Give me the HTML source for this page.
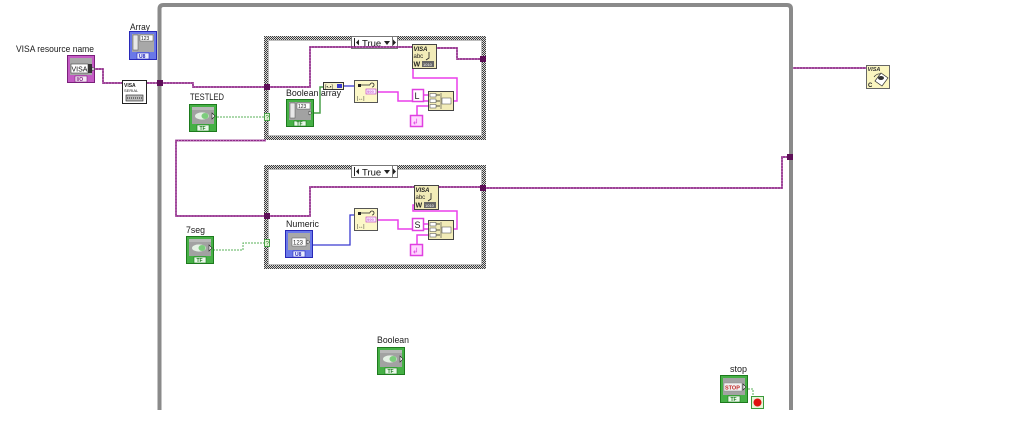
<!DOCTYPE html>
<html><head><meta charset="utf-8"><style>
html,body{margin:0;padding:0;background:#fff;}
svg{display:block;}
text{font-family:"Liberation Sans",sans-serif;}
.lbl{font-size:9.5px;fill:#1a1a1a;}
.vw{fill:none;stroke:#8e2a86;stroke-width:1.7;}
.vd{fill:none;stroke:#d078d0;stroke-width:0.8;stroke-dasharray:1 2;}
.sw{fill:none;stroke:#ea3fea;stroke-width:1.5;}
.gw{fill:none;stroke:#58b058;stroke-width:1;stroke-dasharray:2 1;}
.gs{fill:none;stroke:#4aa04a;stroke-width:1.5;}
.bw{fill:none;stroke:#3a3ad0;stroke-width:1.3;}
.tiny{font-size:5px;font-weight:bold;}
</style></head><body>
<svg width="1024" height="439" viewBox="0 0 1024 439" xmlns="http://www.w3.org/2000/svg">
<defs>
<pattern id="chk" width="2" height="2" patternUnits="userSpaceOnUse">
<rect width="2" height="2" fill="#d8d8d8"/><rect width="1" height="1" fill="#3c3c3c"/><rect x="1" y="1" width="1" height="1" fill="#3c3c3c"/>
</pattern>
<g id="boolT">
<rect x="0" y="0" width="28" height="28" fill="#1d7a1d"/>
<rect x="1" y="1" width="26" height="26" fill="#46b046"/>
<rect x="3" y="3" width="22" height="17" fill="#a2a2a2"/>
<rect x="3" y="3" width="22" height="3" fill="#b8b8b8"/>
<ellipse cx="13" cy="12" rx="7" ry="3.6" fill="#e4f0e4"/>
<ellipse cx="16" cy="12" rx="3.5" ry="3" fill="#7ccc7c"/>
<polygon points="23,9 26,12 23,15" fill="#fff" stroke="#222" stroke-width="0.6"/>
<rect x="8" y="21" width="12" height="6" fill="#eaf8ea" stroke="#1d7a1d" stroke-width="0.6"/>
<text x="10.5" y="26" class="tiny" fill="#1d7a1d">TF</text>
</g>
</defs>

<!-- While loop -->
<path d="M159.5,410 V9 Q159.5,5 163.5,5 H787 Q791,5 791,9 V410" fill="none" stroke="#8a8a8a" stroke-width="4"/>

<!-- Case structure 1 -->
<rect x="264" y="36" width="222" height="104" fill="url(#chk)"/>
<rect x="268" y="40" width="214" height="96" fill="#fff"/>
<rect x="268.5" y="40.5" width="213" height="95" fill="none" stroke="#bdbdbd" stroke-width="1"/>
<!-- Case structure 2 -->
<rect x="264" y="165" width="222" height="104" fill="url(#chk)"/>
<rect x="268" y="169" width="214" height="96" fill="#fff"/>
<rect x="268.5" y="169.5" width="213" height="95" fill="none" stroke="#bdbdbd" stroke-width="1"/>

<!-- Selectors -->
<g>
<rect x="351.5" y="36.5" width="46" height="12" fill="#fff" stroke="#777"/>
<polygon points="356,42.5 359,39.5 359,45.5" fill="#222"/><line x1="354.5" y1="38" x2="354.5" y2="47" stroke="#222"/>
<text x="362" y="46.5" font-size="9.5" fill="#111">True</text>
<polygon points="384,41 390,41 387,45" fill="#222"/>
<line x1="392.5" y1="37" x2="392.5" y2="48" stroke="#777"/>
<polygon points="393,39.5 396,42.5 393,45.5" fill="#222"/>
</g>
<g transform="translate(0,129)">
<rect x="351.5" y="36.5" width="46" height="12" fill="#fff" stroke="#777"/>
<polygon points="356,42.5 359,39.5 359,45.5" fill="#222"/><line x1="354.5" y1="38" x2="354.5" y2="47" stroke="#222"/>
<text x="362" y="46.5" font-size="9.5" fill="#111">True</text>
<polygon points="384,41 390,41 387,45" fill="#222"/>
<line x1="392.5" y1="37" x2="392.5" y2="48" stroke="#777"/>
<polygon points="393,39.5 396,42.5 393,45.5" fill="#222"/>
</g>

<!-- VISA wires -->
<g>
<path class="vw" d="M95,69 H103 V83 H122"/>
<path class="vw" d="M146,83 H160"/>
<path class="vw" d="M163,83 H193 V87 H265"/>
<path class="vw" d="M270,87 H310 V47 H412"/>
<path class="vw" d="M437,48 H457 V59 H480"/>
<path class="vw" d="M266,140.5 H176 V216 H265"/>
<path class="vw" d="M270,216 H310 V187 H414"/>
<path class="vw" d="M438,187 H480"/>
<path class="vw" d="M486,188 H782 V157 H788"/>
<path class="vw" d="M793,68 H866"/>
</g>
<g>
<path class="vd" d="M95,69 H103 V83 H122"/>
<path class="vd" d="M146,83 H160"/>
<path class="vd" d="M163,83 H193 V87 H265"/>
<path class="vd" d="M270,87 H310 V47 H412"/>
<path class="vd" d="M437,48 H457 V59 H480"/>
<path class="vd" d="M266,140.5 H176 V216 H265"/>
<path class="vd" d="M270,216 H310 V187 H414"/>
<path class="vd" d="M438,187 H480"/>
<path class="vd" d="M486,188 H782 V157 H788"/>
<path class="vd" d="M793,68 H866"/>
</g>

<!-- String wires case 1 -->
<path class="sw" d="M378,92 H398 V101 H428"/>
<path class="sw" d="M424,95 H428"/>
<path class="sw" d="M417,115 V106 H428"/>
<path class="sw" d="M453,101 H457 V78 H413 V68"/>
<!-- String wires case 2 -->
<path class="sw" d="M378,220 H398 V229 H428"/>
<path class="sw" d="M424,224 H428"/>
<path class="sw" d="M417,244 V235 H428"/>
<path class="sw" d="M453,229 H457 V211 H413 V205 H415"/>

<!-- numeric/bool wires -->
<path class="gs" d="M314,113 H320 V87 H323"/>
<path class="bw" d="M343,86 H354"/>
<path class="bw" d="M313,245 H350 V215 H354"/>
<path class="gw" d="M217,117 H265"/>
<path class="gw" d="M213,250 H243 V243 H265"/>
<path class="gw" d="M748,389 H753 V396"/>

<!-- Tunnels -->
<rect x="157" y="80" width="6" height="6" fill="#5e0f58"/>
<rect x="787" y="154" width="6" height="6" fill="#5e0f58"/>
<rect x="264" y="84" width="6" height="6" fill="#5e0f58"/>
<rect x="480" y="56" width="6" height="6" fill="#5e0f58"/>
<rect x="264" y="213" width="6" height="6" fill="#5e0f58"/>
<rect x="480" y="185" width="6" height="6" fill="#5e0f58"/>
<rect x="264.5" y="113.5" width="5" height="7" fill="#e6f6d8" stroke="#4aa04a"/>
<text x="265.5" y="119.5" font-size="6" fill="#2a802a">?</text>
<rect x="264.5" y="239.5" width="5" height="7" fill="#e6f6d8" stroke="#4aa04a"/>
<text x="265.5" y="245.5" font-size="6" fill="#2a802a">?</text>

<!-- Labels -->
<text class="lbl" x="16" y="52" textLength="78" lengthAdjust="spacingAndGlyphs">VISA resource name</text>
<text class="lbl" x="130" y="30" textLength="20" lengthAdjust="spacingAndGlyphs">Array</text>
<text class="lbl" x="190" y="100" textLength="34" lengthAdjust="spacingAndGlyphs">TESTLED</text>
<text class="lbl" x="186" y="233" textLength="19" lengthAdjust="spacingAndGlyphs">7seg</text>
<text class="lbl" x="377" y="343" textLength="32" lengthAdjust="spacingAndGlyphs">Boolean</text>
<text class="lbl" x="730" y="372" textLength="17" lengthAdjust="spacingAndGlyphs">stop</text>
<text class="lbl" x="286" y="96" textLength="55" lengthAdjust="spacingAndGlyphs">Boolean array</text>
<text class="lbl" x="286" y="227" textLength="33" lengthAdjust="spacingAndGlyphs">Numeric</text>

<!-- VISA resource control -->
<g transform="translate(67,55)">
<rect x="0" y="0" width="28" height="28" fill="#7a1f7a"/>
<rect x="1" y="1" width="26" height="26" fill="#c45cc4"/>
<rect x="3" y="3" width="22" height="17" fill="#a8a8a8"/>
<rect x="4" y="9" width="17" height="9" fill="#fff" stroke="#444" stroke-width="0.6"/>
<text x="4.5" y="16.5" font-size="7" fill="#111">VISA</text>
<rect x="21" y="9" width="4" height="9" fill="#333"/>
<polygon points="25,12 28,14 25,16" fill="#fff" stroke="#222" stroke-width="0.5"/>
<rect x="8" y="21" width="12" height="6" fill="#f6e6f6" stroke="#7a1f7a" stroke-width="0.6"/>
<text x="9.5" y="26" class="tiny" fill="#7a1f7a">I/O</text>
</g>

<!-- Array control -->
<g transform="translate(129,31)">
<rect x="0" y="0" width="28" height="29" fill="#2828b8"/>
<rect x="1" y="1" width="26" height="27" fill="#6a78e8"/>
<rect x="3" y="3" width="22" height="18" fill="#a8a8a8"/>
<rect x="4" y="4" width="5" height="15" fill="#e8e8e8" stroke="#555" stroke-width="0.5"/>
<rect x="11" y="4" width="13" height="6" fill="#fff" stroke="#555" stroke-width="0.5"/>
<text x="12" y="9" font-size="5" fill="#222">123</text>
<rect x="8" y="22" width="12" height="6" fill="#e8ecff" stroke="#2828b8" stroke-width="0.6"/>
<text x="10" y="27" class="tiny" fill="#2828b8">U8</text>
</g>

<!-- VISA serial node -->
<g transform="translate(122,80)">
<rect x="0.5" y="0.5" width="24" height="23" fill="#fff" stroke="#222"/>
<text x="2" y="7" font-size="5" font-weight="bold" fill="#222">VISA</text>
<text x="2" y="12" font-size="4" fill="#222">SERIAL</text>
<rect x="4" y="15" width="17" height="6" fill="#bbb" stroke="#222" stroke-width="0.6"/>
<line x1="5" y1="18" x2="20" y2="18" stroke="#222" stroke-dasharray="1 1"/>
</g>

<!-- Bool terminals -->
<use href="#boolT" x="189" y="104"/>
<use href="#boolT" x="186" y="236"/>
<use href="#boolT" x="377" y="347"/>

<!-- stop -->
<g transform="translate(720,375)">
<rect x="0" y="0" width="28" height="28" fill="#1d7a1d"/>
<rect x="1" y="1" width="26" height="26" fill="#46b046"/>
<rect x="3" y="3" width="22" height="17" fill="#a2a2a2"/>
<rect x="4" y="8" width="18" height="8" fill="#f2f2f2" stroke="#888" stroke-width="0.5"/>
<text x="5" y="14.5" font-size="5.5" font-weight="bold" fill="#c02020">STOP</text>
<polygon points="23,9 26,12 23,15" fill="#fff" stroke="#222" stroke-width="0.6"/>
<rect x="8" y="21" width="12" height="6" fill="#eaf8ea" stroke="#1d7a1d" stroke-width="0.6"/>
<text x="10.5" y="26" class="tiny" fill="#1d7a1d">TF</text>
</g>
<rect x="751.5" y="396.5" width="12" height="12" fill="#e8f4d8" stroke="#3a9a3a"/>
<circle cx="757.5" cy="402.5" r="4" fill="#e01010"/>

<!-- Boolean array control in case 1 -->
<g transform="translate(286,99)">
<rect x="0" y="0" width="28" height="28" fill="#1d7a1d"/>
<rect x="1" y="1" width="26" height="26" fill="#46b046"/>
<rect x="3" y="3" width="22" height="18" fill="#a2a2a2"/>
<rect x="4" y="4" width="5" height="15" fill="#e8e8e8" stroke="#555" stroke-width="0.5"/>
<rect x="11" y="4" width="13" height="6" fill="#fff" stroke="#555" stroke-width="0.5"/>
<text x="12" y="9" font-size="5" fill="#222">123</text>
<polygon points="23,12 26,14 23,16" fill="#fff" stroke="#222" stroke-width="0.5"/>
<rect x="8" y="22" width="12" height="5" fill="#eaf8ea" stroke="#1d7a1d" stroke-width="0.6"/>
<text x="10.5" y="26.5" class="tiny" fill="#1d7a1d">TF</text>
</g>

<!-- Numeric control in case 2 -->
<g transform="translate(285,230)">
<rect x="0" y="0" width="28" height="28" fill="#2828b8"/>
<rect x="1" y="1" width="26" height="26" fill="#6a78e8"/>
<rect x="3" y="3" width="22" height="17" fill="#a8a8a8"/>
<rect x="7" y="8" width="14" height="8" fill="#fff" stroke="#555" stroke-width="0.5"/>
<text x="8" y="14.5" font-size="6" fill="#222">123</text>
<polygon points="22,10 25,12 22,14" fill="#fff" stroke="#222" stroke-width="0.5"/>
<rect x="8" y="21" width="12" height="6" fill="#e8ecff" stroke="#2828b8" stroke-width="0.6"/>
<text x="10" y="26" class="tiny" fill="#2828b8">U8</text>
</g>

<!-- Boolean array to number -->
<g transform="translate(323,82)">
<rect x="0.5" y="0.5" width="20" height="7" fill="#f4f0c8" stroke="#333"/>
<text x="2" y="6.5" font-size="5" fill="#222">[•-•]</text>
<rect x="14" y="2" width="5" height="4" fill="#3a3ad0"/>
</g>

<!-- Number to string nodes -->
<g>
<rect x="354.5" y="80.5" width="23" height="22" fill="#fcf8c8" stroke="#555"/>
<rect x="358" y="84" width="3" height="3" fill="#222"/>
<path d="M360,85 H370 M370,85 a2,2 0 1 1 2,2" fill="none" stroke="#222" stroke-width="0.8"/>
<rect x="366" y="89" width="10" height="5" fill="#f8f0ff" stroke="#c030c0" stroke-width="0.6"/>
<text x="367" y="93" font-size="4" fill="#c030c0">999</text>
<text x="357" y="100" font-size="5" fill="#222">|↔|</text>
</g>
<g transform="translate(0,128)">
<rect x="354.5" y="80.5" width="23" height="22" fill="#fcf8c8" stroke="#555"/>
<rect x="358" y="84" width="3" height="3" fill="#222"/>
<path d="M360,85 H370 M370,85 a2,2 0 1 1 2,2" fill="none" stroke="#222" stroke-width="0.8"/>
<rect x="366" y="89" width="10" height="5" fill="#f8f0ff" stroke="#c030c0" stroke-width="0.6"/>
<text x="367" y="93" font-size="4" fill="#c030c0">999</text>
<text x="357" y="100" font-size="5" fill="#222">|↔|</text>
</g>

<!-- VISA write nodes -->
<g transform="translate(412,44)">
<rect x="0.5" y="0.5" width="24" height="24" fill="#f2ecb8" stroke="#444"/>
<text x="1.5" y="7" font-size="6" font-style="italic" font-weight="bold" fill="#222">VISA</text>
<text x="1.5" y="14" font-size="6" fill="#222">abc</text>
<path d="M17,8 v6 l-3,2" fill="none" stroke="#222" stroke-width="0.8"/>
<text x="1.5" y="22.5" font-size="7" font-weight="bold" fill="#222">W</text>
<rect x="10" y="17" width="12" height="6" fill="#666"/>
<text x="11" y="22" font-size="4" fill="#fff">1010</text>
</g>
<g transform="translate(414,185)">
<rect x="0.5" y="0.5" width="24" height="24" fill="#f2ecb8" stroke="#444"/>
<text x="1.5" y="7" font-size="6" font-style="italic" font-weight="bold" fill="#222">VISA</text>
<text x="1.5" y="14" font-size="6" fill="#222">abc</text>
<path d="M17,8 v6 l-3,2" fill="none" stroke="#222" stroke-width="0.8"/>
<text x="1.5" y="22.5" font-size="7" font-weight="bold" fill="#222">W</text>
<rect x="10" y="17" width="12" height="6" fill="#666"/>
<text x="11" y="22" font-size="4" fill="#fff">1010</text>
</g>

<!-- string constants & concat case 1 -->
<rect x="412.5" y="89.5" width="11" height="12" fill="#fff" stroke="#e040e0" stroke-width="1.5"/>
<text x="414.5" y="99" font-size="9" fill="#222">L</text>
<rect x="410.5" y="115.5" width="12" height="11" fill="#ffd8ff" stroke="#e040e0" stroke-width="1.5"/>
<text x="412" y="124.5" font-size="8" fill="#e040e0">↲</text>
<g transform="translate(428,91)">
<rect x="0.5" y="0.5" width="25" height="19" fill="#f2ecb8" stroke="#444"/>
<rect x="2" y="2.5" width="6" height="3.5" fill="#fff" stroke="#444" stroke-width="0.5"/>
<rect x="2" y="8" width="6" height="3.5" fill="#fff" stroke="#444" stroke-width="0.5"/>
<rect x="2" y="13.5" width="6" height="3.5" fill="#fff" stroke="#444" stroke-width="0.5"/>
<path d="M8,4 H12 M8,10 H12 M8,15 H12" stroke="#222" stroke-width="0.8"/>
<rect x="14" y="7" width="9" height="6" fill="#fff" stroke="#444" stroke-width="0.5"/>
<line x1="13" y1="2" x2="13" y2="18" stroke="#444" stroke-width="0.6"/>
</g>
<!-- case 2 -->
<rect x="412.5" y="218.5" width="11" height="12" fill="#fff" stroke="#e040e0" stroke-width="1.5"/>
<text x="414.5" y="228" font-size="9" fill="#222">S</text>
<rect x="410.5" y="244.5" width="12" height="11" fill="#ffd8ff" stroke="#e040e0" stroke-width="1.5"/>
<text x="412" y="253.5" font-size="8" fill="#e040e0">↲</text>
<g transform="translate(428,220)">
<rect x="0.5" y="0.5" width="25" height="19" fill="#f2ecb8" stroke="#444"/>
<rect x="2" y="2.5" width="6" height="3.5" fill="#fff" stroke="#444" stroke-width="0.5"/>
<rect x="2" y="8" width="6" height="3.5" fill="#fff" stroke="#444" stroke-width="0.5"/>
<rect x="2" y="13.5" width="6" height="3.5" fill="#fff" stroke="#444" stroke-width="0.5"/>
<path d="M8,4 H12 M8,10 H12 M8,15 H12" stroke="#222" stroke-width="0.8"/>
<rect x="14" y="7" width="9" height="6" fill="#fff" stroke="#444" stroke-width="0.5"/>
<line x1="13" y1="2" x2="13" y2="18" stroke="#444" stroke-width="0.6"/>
</g>

<!-- VISA close -->
<g transform="translate(866,65)">
<rect x="0.5" y="0.5" width="23" height="23" fill="#fbf6c0" stroke="#666"/>
<text x="1.5" y="6" font-size="5.5" font-style="italic" font-weight="bold" fill="#333">VISA</text>
<path d="M9,16 l6,-8 l7,5 l-6,8 z" fill="#fff" stroke="#333" stroke-width="0.7"/>
<ellipse cx="15" cy="13" rx="3" ry="2" fill="#333"/>
<path d="M8,12 q3,-4 7,-3" fill="none" stroke="#333" stroke-width="0.7"/>
<text x="2" y="22" font-size="6" font-weight="bold" fill="#222">C</text>
</g>
</svg>
</body></html>
